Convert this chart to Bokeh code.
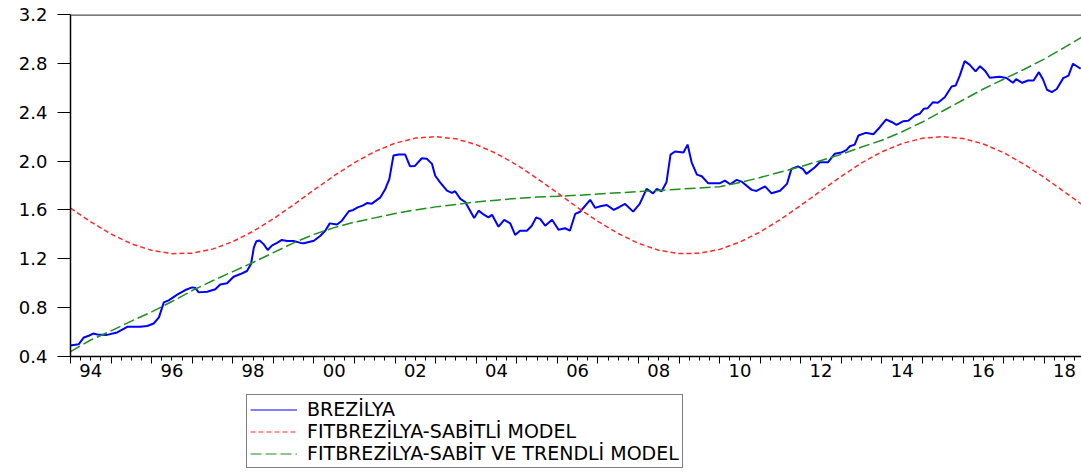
from bokeh.plotting import figure
from bokeh.layouts import column
from bokeh.models import (Range1d, FixedTicker, LinearAxis, Legend, LegendItem,
                          Span, NumeralTickFormatter)
from bokeh.embed import file_html
from bokeh.resources import INLINE

# ---------------- data ----------------
brezilya_t = [1994.00, 1994.20, 1994.33, 1994.45, 1994.56, 1994.66, 1994.90, 1995.15, 1995.40,
              1995.72, 1995.89, 1996.05, 1996.18, 1996.30, 1996.42, 1996.63, 1996.83, 1997.00,
              1997.08, 1997.16, 1997.37, 1997.57, 1997.69, 1997.86, 1998.02, 1998.19, 1998.35,
              1998.45, 1998.52, 1998.58, 1998.66, 1998.76, 1998.86, 1998.97, 1999.09, 1999.21,
              1999.34, 1999.50, 1999.67, 1999.75, 2000.00, 2000.16, 2000.28, 2000.39, 2000.57,
              2000.69, 2000.86, 2000.97, 2001.08, 2001.20, 2001.32, 2001.42, 2001.64, 2001.76,
              2001.86, 2001.96, 2002.09, 2002.25, 2002.37, 2002.49, 2002.66, 2002.78, 2002.91,
              2002.99, 2003.11, 2003.28, 2003.40, 2003.48, 2003.61, 2003.73, 2003.85, 2003.95,
              2004.06, 2004.18, 2004.30, 2004.39, 2004.55, 2004.69, 2004.84, 2004.96, 2005.08,
              2005.25, 2005.37, 2005.48, 2005.58, 2005.70, 2005.87, 2006.03, 2006.19, 2006.31,
              2006.44, 2006.56, 2006.81, 2006.93, 2007.06, 2007.22, 2007.39, 2007.51, 2007.67,
              2007.87, 2008.03, 2008.20, 2008.36, 2008.45, 2008.57, 2008.69, 2008.79, 2008.90,
              2009.11, 2009.21, 2009.31, 2009.44, 2009.56, 2009.72, 2010.00, 2010.13, 2010.26,
              2010.42, 2010.54, 2010.79, 2010.91, 2011.12, 2011.28, 2011.49, 2011.66, 2011.77,
              2011.93, 2012.05, 2012.14, 2012.35, 2012.47, 2012.67, 2012.84, 2013.00, 2013.13,
              2013.21, 2013.33, 2013.42, 2013.60, 2013.79, 2013.95, 2014.10, 2014.24, 2014.36,
              2014.52, 2014.65, 2014.81, 2014.93, 2015.03, 2015.13, 2015.26, 2015.38, 2015.55,
              2015.72, 2015.82, 2015.92, 2016.04, 2016.16, 2016.31, 2016.42, 2016.54, 2016.66,
              2016.90, 2017.07, 2017.23, 2017.31, 2017.46, 2017.60, 2017.74, 2017.87, 2017.97,
              2018.07, 2018.19, 2018.31, 2018.47, 2018.60, 2018.71, 2018.90]
brezilya_v = [0.490, 0.500, 0.556, 0.570, 0.588, 0.580, 0.577, 0.597, 0.643,
              0.643, 0.650, 0.670, 0.720, 0.843, 0.860, 0.906, 0.944, 0.966,
              0.960, 0.925, 0.930, 0.950, 0.990, 1.000, 1.053, 1.075, 1.100,
              1.157, 1.293, 1.343, 1.350, 1.320, 1.272, 1.310, 1.330, 1.354,
              1.345, 1.345, 1.330, 1.327, 1.348, 1.389, 1.430, 1.490, 1.480,
              1.512, 1.589, 1.600, 1.621, 1.635, 1.657, 1.650, 1.703, 1.772,
              1.854, 2.045, 2.053, 2.053, 1.957, 1.960, 2.023, 2.020, 1.977,
              1.880, 1.826, 1.758, 1.740, 1.753, 1.690, 1.665, 1.594, 1.534,
              1.594, 1.563, 1.539, 1.560, 1.463, 1.518, 1.490, 1.395, 1.430,
              1.430, 1.471, 1.539, 1.525, 1.471, 1.520, 1.438, 1.450, 1.430,
              1.567, 1.585, 1.683, 1.617, 1.630, 1.640, 1.600, 1.620, 1.649,
              1.586, 1.649, 1.772, 1.736, 1.772, 1.753, 1.826, 2.053, 2.078,
              2.070, 2.135, 1.990, 1.889, 1.876, 1.818, 1.818, 1.840, 1.810,
              1.846, 1.832, 1.764, 1.755, 1.793, 1.736, 1.757, 1.813, 1.936,
              1.957, 1.936, 1.895, 1.950, 1.990, 1.990, 2.060, 2.070, 2.092,
              2.121, 2.135, 2.209, 2.231, 2.220, 2.277, 2.340, 2.320, 2.297,
              2.326, 2.330, 2.373, 2.387, 2.428, 2.433, 2.482, 2.477, 2.523,
              2.611, 2.619, 2.700, 2.818, 2.790, 2.734, 2.777, 2.740, 2.682,
              2.690, 2.680, 2.641, 2.670, 2.641, 2.660, 2.660, 2.728, 2.670,
              2.584, 2.565, 2.590, 2.679, 2.700, 2.797, 2.756]

fit_t = [1994.0 + 0.5 * i for i in range(51)]
fit_sabitli = [1.615, 1.502, 1.403, 1.323, 1.269, 1.242, 1.246, 1.279, 1.340, 1.425,
               1.527, 1.643, 1.763, 1.880, 1.987, 2.078, 2.146, 2.188, 2.200, 2.182,
               2.135, 2.062, 1.969, 1.858, 1.740, 1.620, 1.506, 1.407, 1.326, 1.270,
               1.243, 1.245, 1.277, 1.337, 1.420, 1.522, 1.637, 1.757, 1.875, 1.985,
               2.076, 2.144, 2.187, 2.200, 2.184, 2.140, 2.069, 1.975, 1.866, 1.748,
               1.627]
fit_trendli = [0.440, 0.535, 0.610, 0.690, 0.765, 0.850, 0.940, 1.020, 1.095, 1.170,
               1.250, 1.330, 1.400, 1.455, 1.500, 1.535, 1.570, 1.600, 1.625, 1.645,
               1.665, 1.680, 1.695, 1.705, 1.712, 1.720, 1.730, 1.740, 1.750, 1.760,
               1.770, 1.780, 1.790, 1.825, 1.865, 1.910, 1.955, 2.005, 2.055, 2.115,
               2.170, 2.240, 2.320, 2.410, 2.500, 2.590, 2.670, 2.750, 2.835, 2.930,
               3.030]

year_ticks = list(range(1994, 2019))
quarter_ticks = [1994 + 0.25 * i for i in range(100)]
label_pos = [1994.5, 1996.5, 1998.5, 2000.5, 2002.5, 2004.5, 2006.5, 2008.5,
             2010.5, 2012.5, 2014.5, 2016.5, 2018.5]
label_txt = ["94", "96", "98", "00", "02", "04", "06", "08", "10", "12", "14", "16", "18"]
y_ticks = [0.4, 0.8, 1.2, 1.6, 2.0, 2.4, 2.8, 3.2]

series_names = ["BREZİLYA", "FITBREZİLYA-SABİTLİ MODEL", "FITBREZİLYA-SABİT VE TRENDLİ MODEL"]

FONT = "DejaVu Sans"
STYLES = [dict(line_color="#0000FF", line_width=2),
          dict(line_color="#FF2A2A", line_width=1.5, line_dash="5 3"),
          dict(line_color="#1F8F1F", line_width=1.5, line_dash="11 4")]
SERIES = [(brezilya_t, brezilya_v), (fit_t, fit_sabitli), (fit_t, fit_trendli)]

# ---------------- main chart ----------------
p = figure(width=1081, height=392,
           min_border_left=70, min_border_right=0, min_border_top=14, min_border_bottom=36,
           x_range=Range1d(1994.0, 2018.92), y_range=Range1d(0.4, 3.2),
           output_backend="svg", toolbar_location=None)
p.grid.visible = False
p.outline_line_color = None
p.background_fill_color = "white"
p.border_fill_color = "white"

ya = p.yaxis[0]
ya.ticker = FixedTicker(ticks=y_ticks, minor_ticks=[])
ya.formatter = NumeralTickFormatter(format="0.0")
ya.major_tick_out = 13
ya.major_tick_in = 0
ya.major_tick_line_color = "black"
ya.axis_line_color = "black"
ya.axis_line_width = 1.5
ya.major_label_standoff = 10
ya.major_label_text_font = FONT
ya.major_label_text_font_size = "18px"
ya.major_label_text_color = "black"

xa = p.xaxis[0]
xa.ticker = FixedTicker(ticks=year_ticks, minor_ticks=quarter_ticks)
xa.major_tick_out = 7
xa.major_tick_in = 0
xa.minor_tick_out = 4
xa.minor_tick_in = 0
xa.major_tick_line_color = "black"
xa.minor_tick_line_color = "black"
xa.axis_line_color = "black"
xa.axis_line_width = 1.5
xa.major_label_overrides = {y: "" for y in year_ticks}
xa.major_label_text_font_size = "1px"
xa.major_label_standoff = 0

xl = LinearAxis(ticker=FixedTicker(ticks=label_pos, minor_ticks=[]))
xl.major_label_overrides = dict(zip(label_pos, label_txt))
xl.axis_line_color = None
xl.major_tick_line_color = None
xl.minor_tick_line_color = None
xl.major_label_standoff = -6
xl.major_label_text_font = FONT
xl.major_label_text_font_size = "18px"
xl.major_label_text_color = "black"
p.add_layout(xl, "below")

p.add_layout(Span(location=3.2, dimension="width", line_color="#505050", line_width=2.5))

for (xs, ys), s in zip(SERIES, STYLES):
    p.line(xs, ys, **s)

# ---------------- legend strip ----------------
# same series drawn again, but outside this strip's visible range: only the keys show
q = figure(width=1081, height=78, x_range=Range1d(0, 1), y_range=Range1d(0, 1),
           min_border=0, x_axis_location=None, y_axis_location=None,
           output_backend="svg", toolbar_location=None)
q.grid.visible = False
q.outline_line_color = None
q.background_fill_color = "white"
q.border_fill_color = "white"
key_styles = [dict(s, line_width=1.2) for s in STYLES]
keys = [q.line(xs, ys, **s) for (xs, ys), s in zip(SERIES, key_styles)]

legend = Legend(items=[LegendItem(label=n, renderers=[r]) for n, r in zip(series_names, keys)],
                location=(176, 2), orientation="vertical",
                border_line_color="black", border_line_width=1,
                background_fill_color="white", background_fill_alpha=1,
                label_text_font=FONT, label_text_font_size="19px",
                label_text_color="black",
                glyph_width=47, glyph_height=19, label_height=19, label_standoff=10,
                spacing=0, padding=3, margin=0)
q.add_layout(legend, "center")

layout = column(p, q, spacing=0)
open("out.html", "w").write(file_html(layout, INLINE))
